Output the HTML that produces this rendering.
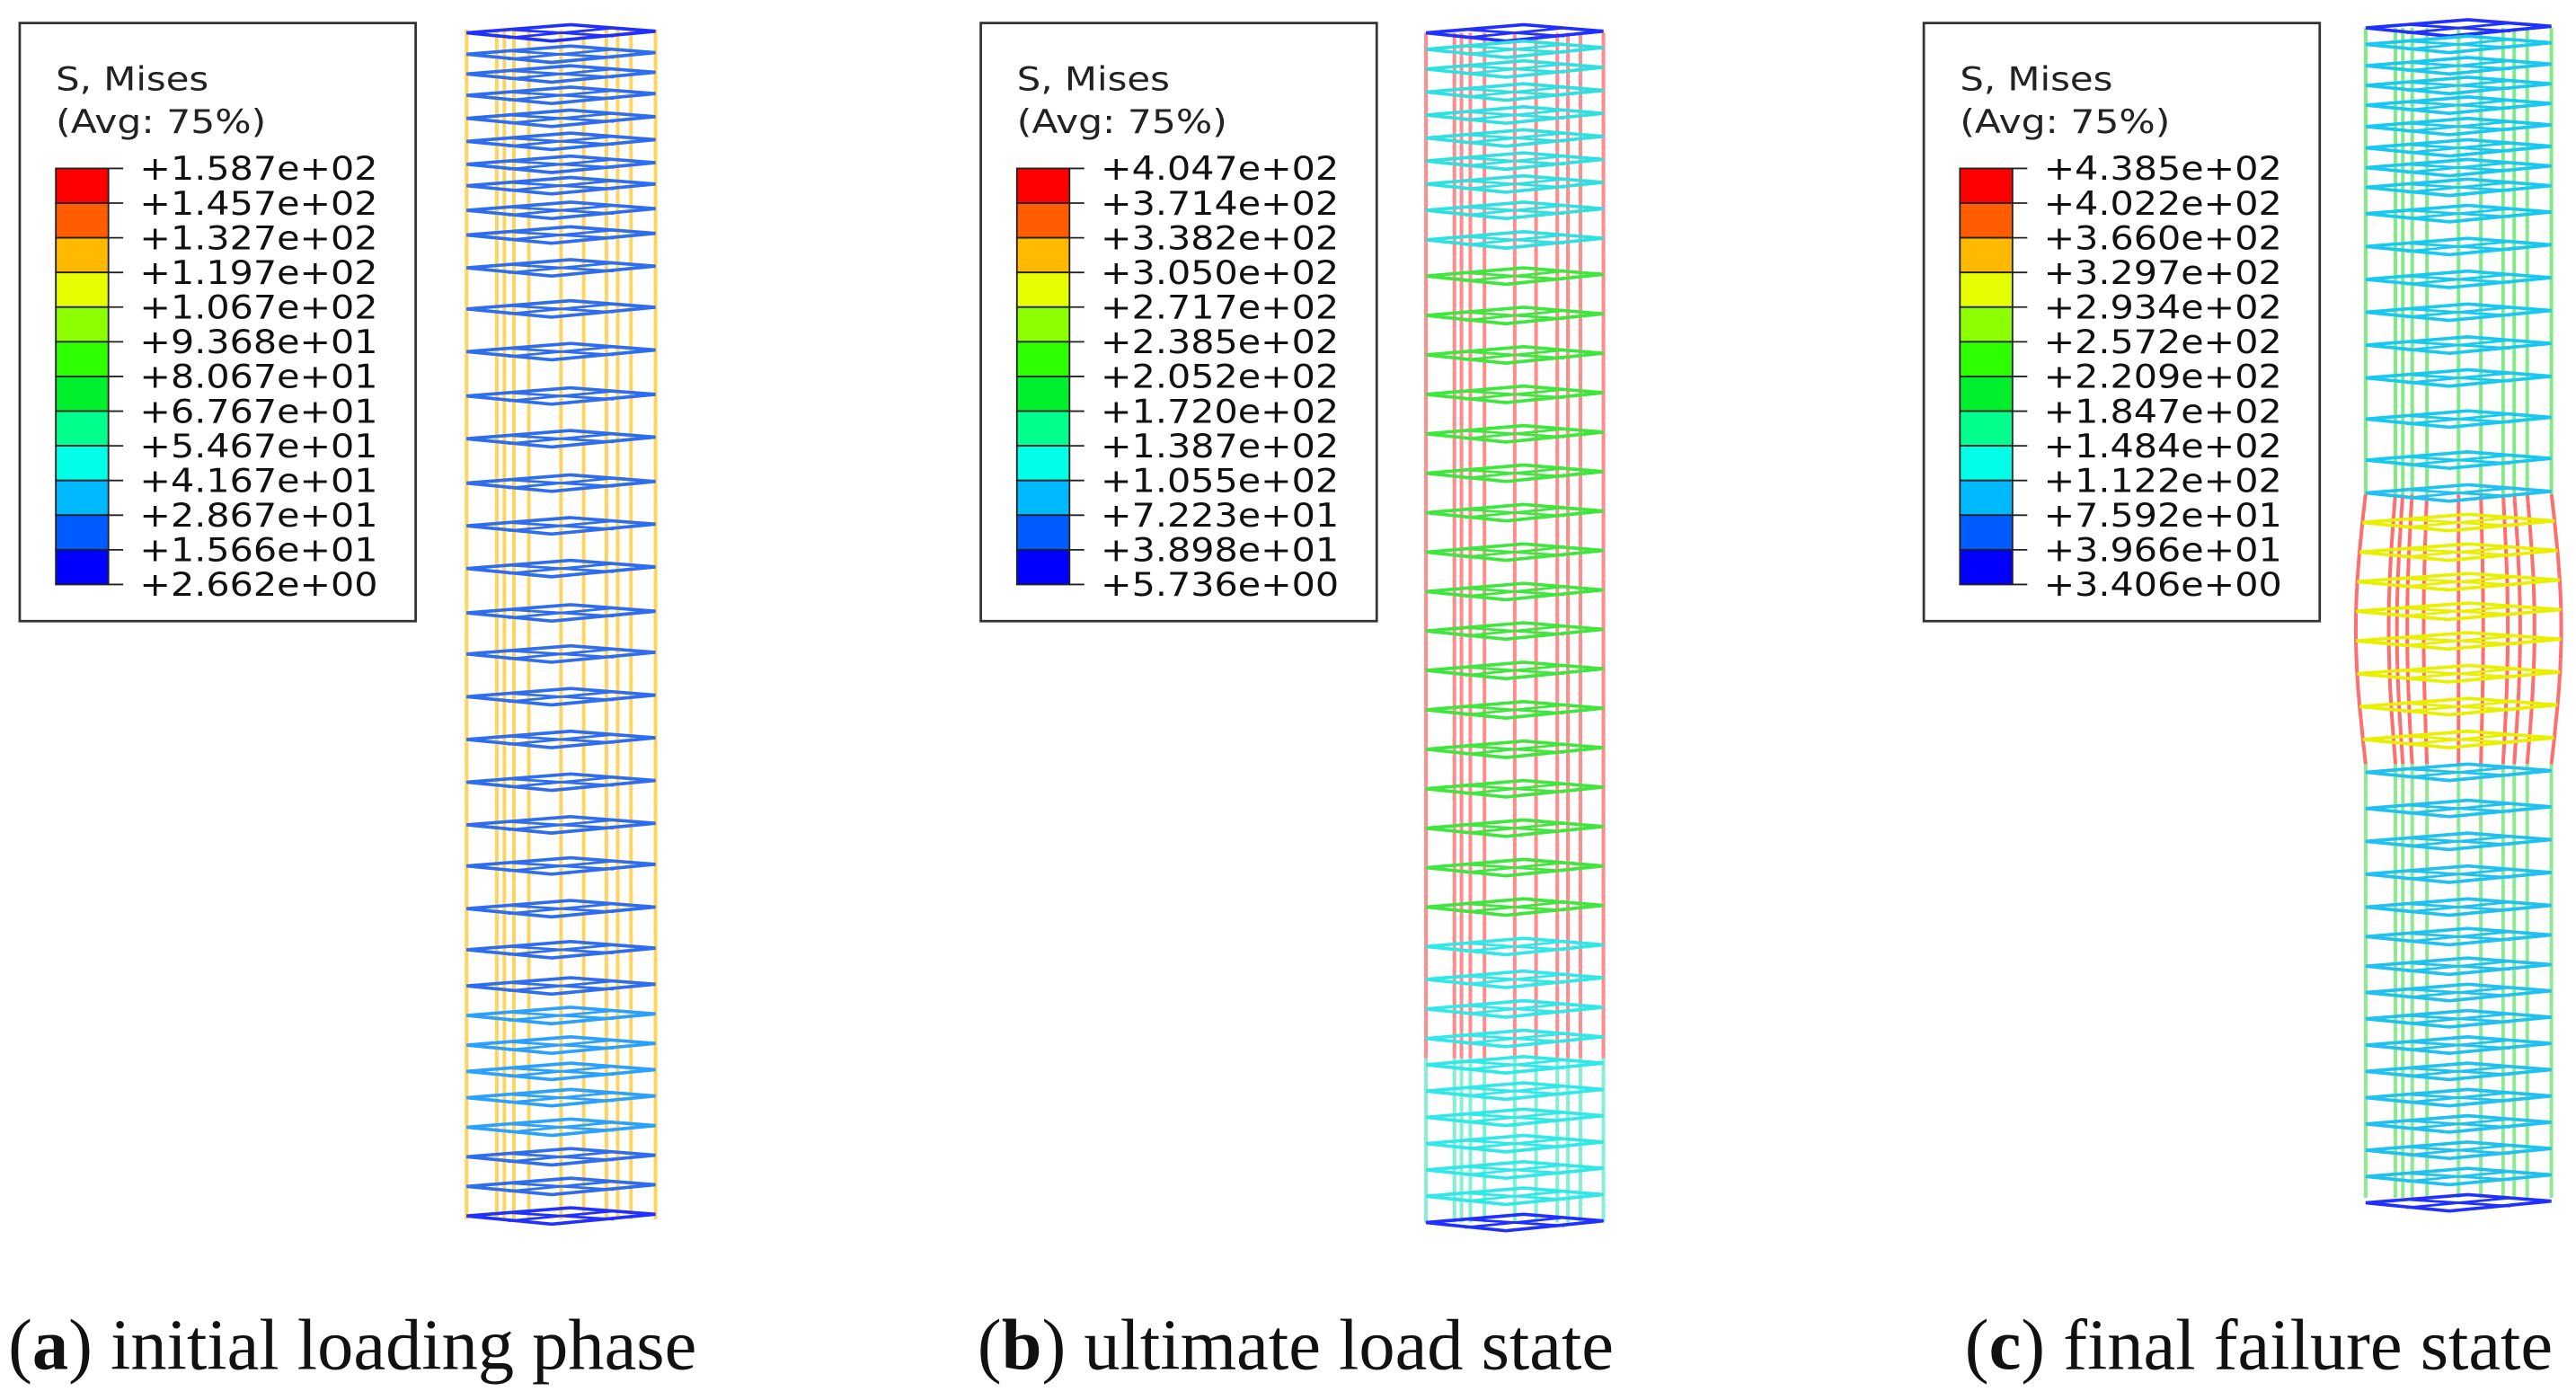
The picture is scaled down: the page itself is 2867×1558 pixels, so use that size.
<!DOCTYPE html>
<html><head><meta charset="utf-8"><style>
html,body{margin:0;padding:0;background:#fff;}
svg{display:block;}
</style></head><body>
<svg id="fig" width="2867" height="1558" viewBox="0 0 1568 852" preserveAspectRatio="none" xmlns="http://www.w3.org/2000/svg">
<rect x="0" y="0" width="1568" height="852" fill="#fff"/>
</svg>
<script>
const bandColors=["#ff0000","#ff5c00","#ffb900","#e6ff00","#8cff00","#2eff00","#00f02e","#00ff8c","#00ffe6","#00b9ff","#005cff","#0000ff"];
const labelsA=["+1.587e+02","+1.457e+02","+1.327e+02","+1.197e+02","+1.067e+02","+9.368e+01","+8.067e+01","+6.767e+01","+5.467e+01","+4.167e+01","+2.867e+01","+1.566e+01","+2.662e+00"];
const labelsB=["+4.047e+02","+3.714e+02","+3.382e+02","+3.050e+02","+2.717e+02","+2.385e+02","+2.052e+02","+1.720e+02","+1.387e+02","+1.055e+02","+7.223e+01","+3.898e+01","+5.736e+00"];
const labelsC=["+4.385e+02","+4.022e+02","+3.660e+02","+3.297e+02","+2.934e+02","+2.572e+02","+2.209e+02","+1.847e+02","+1.484e+02","+1.122e+02","+7.592e+01","+3.966e+01","+3.406e+00"];
const hoopsA=[20,33,45,58,72,86,100,113,128,143,163,188,214,241,267,294,320,346,373,398,424,450,476,502,527,553,578,600,618,636,652,668,686,704,722,740];
const hoopsB=[20,30,42,56,70,84,98,112,128,146,168,192,216,240,264,288,312,336,360,384,408,432,456,480,504,528,552,576,596,614,632,648,664,680,696,712,728,744];
const hoopsC=[17,27,40,52,64,77,90,102,114,130,150,170,190,210,230,255,280,300,318,336,354,372,390,410,430,450,470,492,512,532,552,570,588,604,620,636,652,668,684,700,716,732];
const captions=[["a","initial loading phase"],["b","ultimate load state"],["c","final failure state"]];
const svg=document.getElementById('fig');
const NS="http://www.w3.org/2000/svg";
function mk(tag,attrs,parent){const e=document.createElementNS(NS,tag);for(const k in attrs)e.setAttribute(k,attrs[k]);(parent||svg).appendChild(e);return e;}

function legend(x0,labels,id){
  const g=mk('g',{});
  
  
  const box=mk('rect',{x:x0,y:14,width:241,height:364,fill:'#fff',stroke:'#333','stroke-width':1.5},g);
  
  
  const t1=mk('text',{x:x0+22,y:55,'font-family':'DejaVu Sans, Liberation Sans, sans-serif','font-size':20,fill:'#222',textLength:93,lengthAdjust:'spacingAndGlyphs'},g);
  t1.textContent='S, Mises';
  
  
  const t2=mk('text',{x:x0+22,y:81,'font-family':'DejaVu Sans, Liberation Sans, sans-serif','font-size':20,fill:'#222',textLength:128,lengthAdjust:'spacingAndGlyphs'},g);
  t2.textContent='(Avg: 75%)';
  
  
  const top=102.5,h=21.1;
  bandColors.forEach((c,i)=>{
    const r=mk('rect',{x:x0+22,y:top+i*h,width:32,height:h,fill:c,stroke:'#222','stroke-width':1},g);
    
    
  });
  labels.forEach((l,i)=>{
    const y=top+i*h;
    mk('line',{x1:x0+54,x2:x0+63,y1:y,y2:y,stroke:'#222','stroke-width':1},g);
    const t=mk('text',{x:x0+73,y:y+7,'font-family':'DejaVu Sans, Liberation Sans, sans-serif','font-size':20,fill:'#111',textLength:145,lengthAdjust:'spacingAndGlyphs'},g);
    t.textContent=l;
    
    
  });
}
legend(12,labelsA,'a');legend(597,labelsB,'b');legend(1171,labelsC,'c');

const vfr=[0,0.16,0.2,0.25,0.33,0.5,0.62,0.74,0.8,0.87,1.0];
function column(id,L,R,top,bot,hoops,vColor,hColor,bulge){
  const g=mk('g',{});
  
  
  const w=R-L;
  vfr.forEach(f=>{
    let pts=[];
    for(let y=top;y<=bot;y+=4){
      const b=bulge?bulge(y):0;
      const x=L+f*w+(f<0.5?-b:b)*Math.abs(f-0.5)*2;
      pts.push([x.toFixed(1),y]);
    }
    for(let i=0;i<pts.length-1;i++){
      mk('line',{x1:pts[i][0],y1:pts[i][1],x2:pts[i+1][0],y2:pts[i+1][1],stroke:vColor(pts[i][1]),'stroke-width':2.2,'stroke-opacity':0.7},g);
    }
  });
  hoops.forEach((y,i)=>{
    const b=bulge?bulge(y):0;
    const l=L-b,r=R+b,ww=r-l;
    const c=(i===0||i===hoops.length-1)?'#2030ff':hColor(y);
    const p=mk('polygon',{points:`${l},${y} ${l+ww*0.45},${y+5} ${r},${y-1} ${l+ww*0.55},${y-5}`,fill:'none',stroke:c,'stroke-width':2},g);
    
    
    mk('line',{x1:l+ww*0.22,y1:y+3,x2:l+ww*0.78,y2:y-3,stroke:c,'stroke-width':1.5},g);
    mk('line',{x1:l+ww*0.22,y1:y-2,x2:l+ww*0.78,y2:y+2,stroke:c,'stroke-width':1.5},g);
  });
}
column('a',284,399,18,742,hoopsA,y=>'#ffc21a',y=>y>600&&y<700?'#2aa0ff':'#2e6cf0',null);
column('b',868,976,20,744,hoopsB,y=>y>640?'#50e8c0':'#ff5a5a',y=>y<150?'#30e0e0':(y<560?'#3ee63e':'#30e8e8'),null);
column('c',1440,1553,17,732,hoopsC,y=>(y>300&&y<465)?'#ff3030':(y<300?'#50e050':'#60e060'),y=>(y>300&&y<465)?'#e8f000':(y<290?'#18c8f0':'#20c0f0'),
  y=>(y>300&&y<465)?6*Math.sin(Math.PI*(y-300)/165):0);

const capX=[5,595,1196];
captions.forEach((c,i)=>{
  const t=mk('text',{x:capX[i],y:833,'font-family':'Liberation Serif, serif','font-size':44,fill:'#111'});
  
  
  const a=mk('tspan',{},t);a.textContent='(';
  const b=mk('tspan',{'font-weight':'bold'},t);b.textContent=c[0];
  const d=mk('tspan',{},t);d.textContent=') '+c[1];
});
</script>
</body></html>
